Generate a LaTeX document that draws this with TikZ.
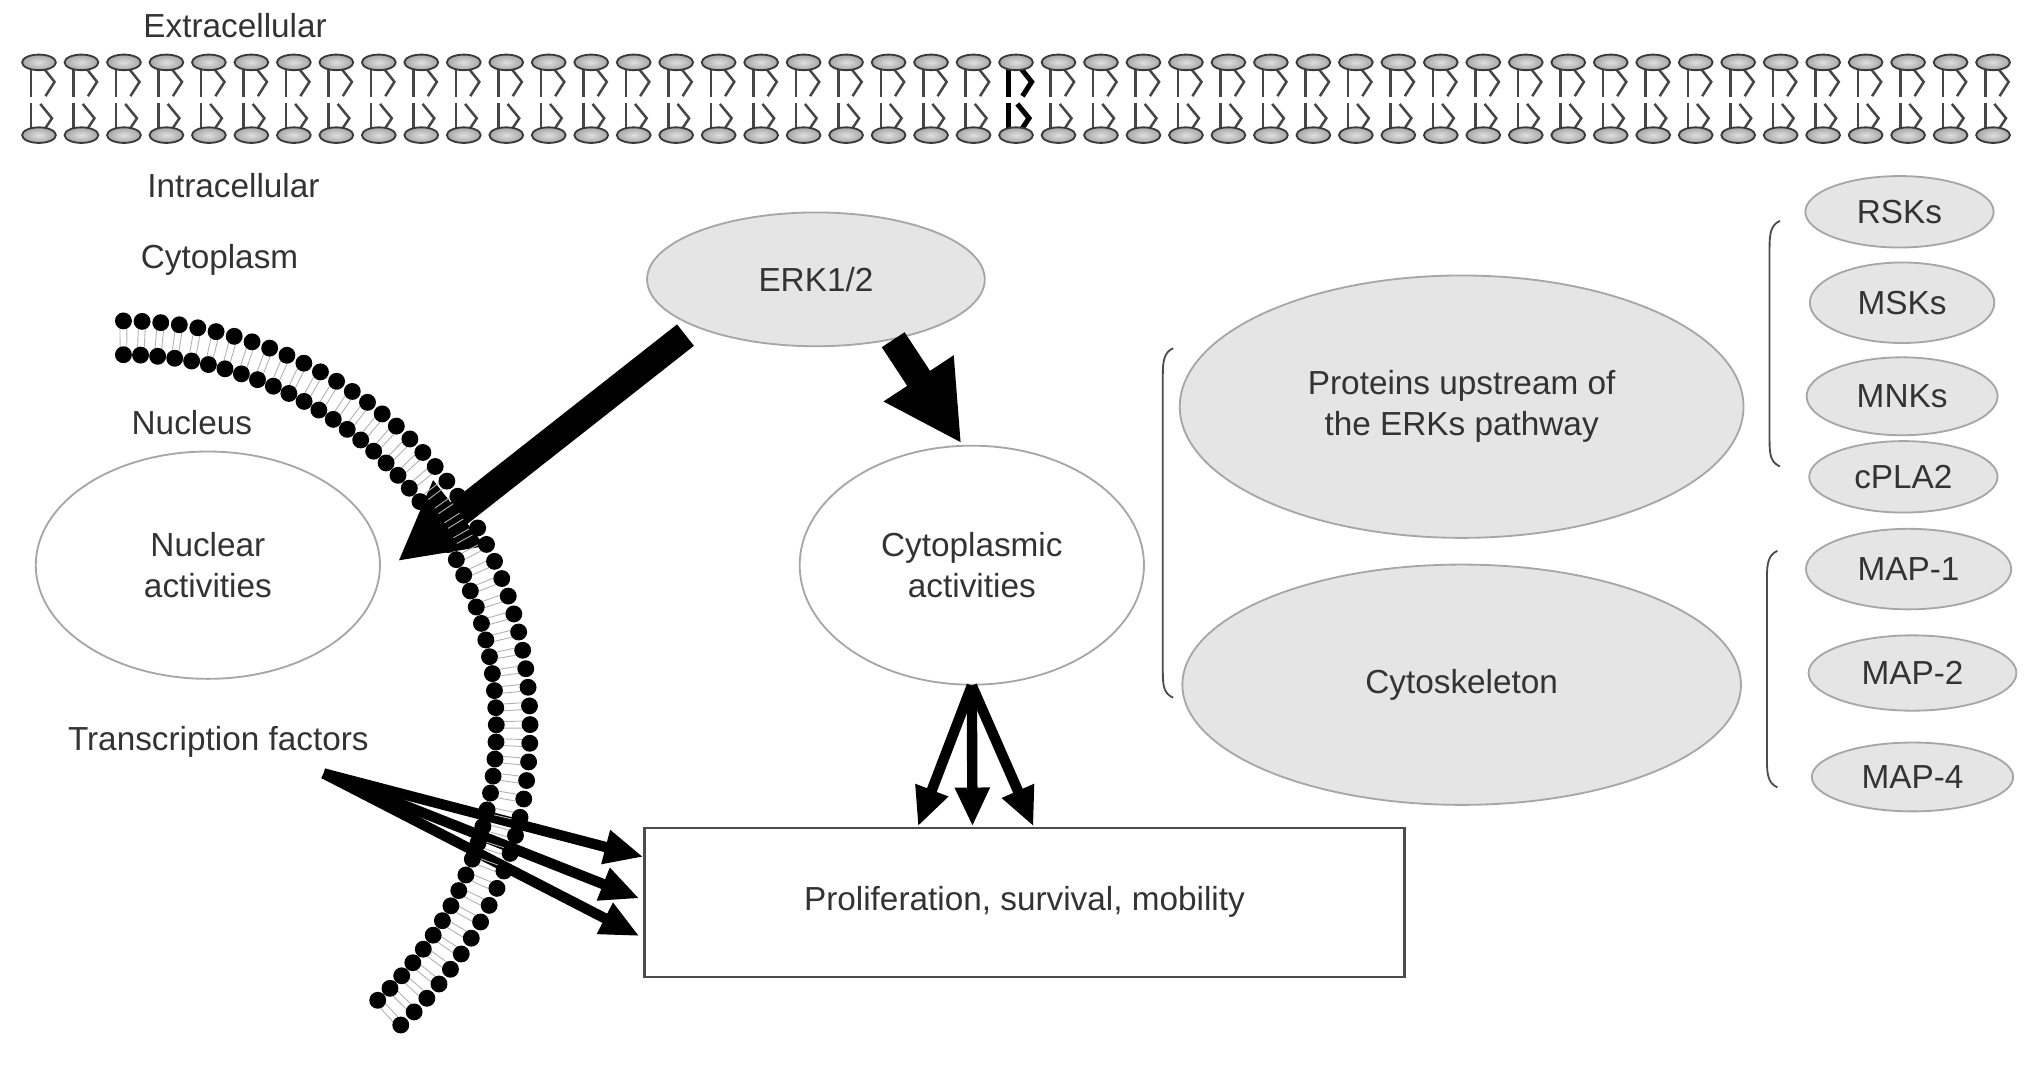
\documentclass[tikz,border=0pt]{standalone}
\usepackage{fontspec}
\setmainfont{Liberation Sans}
\usepackage{tikz}
\usetikzlibrary{arrows.meta,shapes.geometric}
\pgfdeclarelayer{background}
\pgfsetlayers{background,main}
\tikzstyle{every node}=[font=\fontsize{14.6}{18}\selectfont,text=black!80]
\tikzstyle{protein}=[ellipse,draw=gray!70,line width=0.8pt,fill=black!10,inner sep=0pt,align=center]
\tikzstyle{activity}=[ellipse,draw=gray!70,line width=0.8pt,fill=white,inner sep=0pt,align=center]
\tikzstyle{outcome}=[rectangle,draw=black!70,line width=1pt,fill=white,inner sep=0pt]
\tikzstyle{region}=[anchor=west,inner sep=0pt]
\tikzstyle{bigarrow}=[draw=black,line width=0.42cm,-{Triangle[length=1.2cm,width=1.2cm]}]
\tikzstyle{thinarrow}=[draw=black,line width=0.16cm,-{Triangle[length=0.6cm,width=0.5cm]}]
\tikzstyle{bracket}=[draw=gray!60!black,line width=0.8pt]
\tikzstyle{lipid}=[draw=gray!45!black,line width=0.8pt,inner color=gray!25,outer color=gray!70]
\tikzstyle{tail}=[draw=gray!55!black,line width=1.1pt]
\tikzstyle{nuctail}=[draw=gray!60,line width=0.4pt]

\begin{document}
\begin{tikzpicture}[x=0.02cm,y=-0.02cm]
    \useasboundingbox (0,0) rectangle (1564,823);
    % Regions
    \node[region] (extra) at (110,20) {Extracellular};
    \node[region] (intra) at (113,143) {Intracellular};
    \node[region] (cytop) at (108,200) {Cytoplasm};
    \node[region] (nucleus) at (101,325) {Nucleus};
    \node[region] (tf) at (52,571) {Transcription factors};
    % Activities and proteins
    \node[protein,minimum width=5.2cm,minimum height=2.06cm] (erk) at (628,215) {ERK1/2};
    \node[activity,minimum width=5.3cm,minimum height=3.5cm] (nucl) at (160,435) {Nuclear\\activities};
    \node[activity,minimum width=5.3cm,minimum height=3.68cm] (cyto) at (748,435) {Cytoplasmic\\activities};
    \node[protein,minimum width=8.68cm,minimum height=4.04cm] (prot) at (1125,313) {Proteins upstream of\\the ERKs pathway};
    \node[protein,minimum width=8.6cm,minimum height=3.7cm] (cytosk) at (1125,527) {Cytoskeleton};
    \foreach \pos/\name/\w/\h/\txt in {{(1462,163)/rsk/2.9/1.1/RSKs}, {(1464,233)/msk/2.84/1.24/MSKs},
        {(1464,305)/mnk/2.94/1.2/MNKs}, {(1465,367)/cpla/2.9/1.1/cPLA2}, {(1469,438)/mapa/3.16/1.24/MAP-1},
        {(1472,518)/mapb/3.2/1.16/MAP-2}, {(1472,598)/mapd/3.1/1.06/MAP-4}}
        \node[protein,minimum width=\w cm,minimum height=\h cm] (\name) at \pos {\txt};
    \node[outcome,minimum width=11.7cm,minimum height=2.3cm] (box) at (788.5,694.5) {Proliferation, survival, mobility};
    % Brackets
    \draw[bracket] (903,268) .. controls (896,271) and (895,278) .. (895,288) -- (895,518) .. controls (895,528) and (896,534) .. (903,537);
    \draw[bracket] (1370,170) .. controls (1363,173) and (1362,180) .. (1362,190) -- (1362,340) .. controls (1362,350) and (1363,356) .. (1370,359);
    \draw[bracket] (1368,424) .. controls (1361,427) and (1360,434) .. (1360,444) -- (1360,586) .. controls (1360,596) and (1361,603) .. (1368,606);
    % Arrows
    \draw[bigarrow] ([shift={(-8,6)}]erk.south west) -- ([shift={(13,-3)}]nucl.east);
    \draw[bigarrow] (erk.-38) -- ([shift={(-8,-1)}]cyto.north);
    \foreach \dx in {-82,-40,7}
        \draw[thinarrow] (cyto.south) -- ([shift={(\dx,0)}]box.north);
    \foreach \dx/\dy in {0/-35,-3/-3,-3/26}
        \draw[thinarrow] ([shift={(-35,12)}]tf.south east) -- ([shift={(\dx,\dy)}]box.west);
    % Plasma membrane
    \foreach \i in {0,...,46}{
        \pgfmathsetmacro\hx{30+32.696*\i}
        \ifnum\i=23 \tikzset{tail/.append style={draw=black,line width=2.2pt}}\fi
        \begin{scope}[shift={(\hx,0)}]
            \draw[tail] (-6,53) -- (-6,75);
            \draw[tail] (4,53) -- (12,63) -- (5,74);
            \draw[tail] (-6,79) -- (-6,100);
            \draw[tail] (1,80) -- (10,91) -- (4,100);
            \shadedraw[lipid] (0,48) ellipse [x radius=0.26cm,y radius=0.12cm];
            \shadedraw[lipid] (0,104) ellipse [x radius=0.26cm,y radius=0.12cm];
        \end{scope}
    }
    % Nuclear membrane
    \begin{scope}[shift={(95,560)}]
        \foreach \i in {0,...,52}{
            \pgfmathsetmacro\th{-90+137*\i/52}
            \pgfmathsetmacro\ta{\th-0.5}
            \pgfmathsetmacro\tb{\th+0.5}
            \draw[nuctail] (\ta:293) -- (\ta:307);
            \draw[nuctail] (\tb:293) -- (\tb:307);
            \fill[black] (\th:313) circle [radius=0.13cm];
            \fill[black] (\th:287) circle [radius=0.13cm];
        }
    \end{scope}
\end{tikzpicture}
\end{document}
